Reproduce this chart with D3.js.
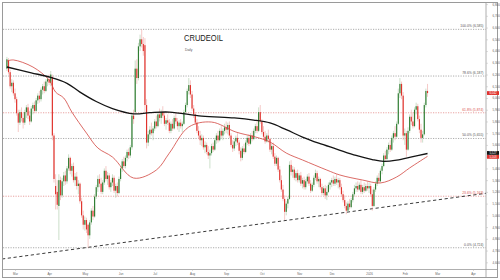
<!DOCTYPE html>
<html>
<head>
<meta charset="utf-8">
<script src="https://cdn.jsdelivr.net/npm/d3@7"></script>
<style>
  html, body { margin: 0; padding: 0; background: #fff; }
  svg { display: block; font-family: "Liberation Sans", Arial, sans-serif; }
</style>
</head>
<body>
<svg id="chart" width="500" height="280"></svg>
<script>
// Daily CRUDEOIL candles, one entry per trading day starting Mon 24 Feb 2025
const opens = [
  6250,6320,6220,6100,6130,
  6040,5990,5870,5790,5880,5830,5790,5880,5920,5850,5800,5910,5940,5890,5980,6020,5990,6070,6100,6060,6140,
  6160,6130,6180,5680,5250,5200,5080,5300,5170,5290,5340,5290,5400,5490,5380,5420,5300,5330,5250,5270,5120,5000,
  4920,4960,4920,4830,4940,5040,4990,5160,5240,5310,5270,5200,5280,5380,5310,5340,5240,5280,5320,5210,5250,5190,
  5310,5400,5460,5420,5490,5540,5510,5580,5850,5880,6250,6170,6440,6500,6460,6450,5940,5620,5690,5730,5700,
  5740,5800,5760,5860,5830,5880,5850,5780,5810,5790,5720,5780,5740,5830,5800,5760,5790,5760,5780,5880,5940,6060,6110,
  6030,5910,5860,5790,5720,5680,5640,5660,5580,5600,5540,5510,5530,5590,5560,5640,5680,5640,5720,5680,5720,
  5750,5730,5770,5680,5600,5570,5630,5660,5620,5550,5490,5570,5540,5620,5660,5610,5680,5650,5720,5760,5720,5880,
  5800,5710,5670,5630,5680,5650,5560,5590,5500,5440,5490,5390,5300,5220,5140,5030,5100,5140,5430,5370,5390,5320,5360,
  5300,5340,5270,5300,5240,5290,5330,5270,5210,5260,5320,5360,5290,5310,5240,5190,5230,5170,5200,5260,
  5280,5300,5270,5310,5280,5300,5240,5180,5130,5080,5040,5100,5070,5130,5180,5230,5250,5220,5260,5200,5240,5210,5250,
  5230,5250,5180,5080,5220,5270,5320,5290,5380,5420,5510,5480,5560,5600,5560,5660,5700,5670,5780,6040,6120,6020,
  5680,5700,5560,5720,5840,5800,5760,5900,5930,5820,5730,5660,5690,5940,6060
];
const highs = [
  6350,6340,6240,6160,6150,
  6080,6010,5900,5900,5920,5870,5900,5940,5950,5890,5930,5960,5970,6000,6040,6060,6090,6120,6140,6160,6190,
  6200,6230,6200,5700,5350,5300,5350,5330,5320,5370,5380,5420,5520,5500,5440,5450,5360,5370,5300,5280,5150,5040,
  4990,4980,4930,4960,5060,5080,5180,5260,5340,5350,5320,5300,5400,5420,5370,5360,5300,5350,5340,5270,5280,5330,
  5420,5480,5500,5510,5560,5570,5600,5880,5900,6320,6330,6470,6540,6585,6520,6510,5990,5720,5760,5790,5760,
  5820,5850,5880,5910,5900,5930,5880,5830,5860,5820,5800,5820,5850,5870,5830,5810,5820,5800,5900,5960,6080,6170,6150,
  6060,5940,5880,5820,5760,5720,5690,5680,5630,5620,5590,5560,5610,5620,5660,5700,5720,5740,5760,5740,5780,
  5800,5790,5800,5700,5640,5650,5680,5700,5640,5580,5590,5610,5640,5680,5690,5700,5720,5740,5780,5810,5920,5940,
  5820,5760,5720,5700,5730,5660,5610,5620,5530,5510,5500,5420,5340,5260,5170,5120,5160,5460,5470,5420,5410,5380,5390,
  5360,5370,5320,5330,5310,5350,5360,5300,5280,5340,5390,5380,5330,5320,5270,5250,5260,5250,5280,5300,
  5320,5340,5330,5350,5320,5320,5270,5210,5170,5110,5120,5140,5150,5200,5260,5280,5290,5280,5300,5260,5280,5270,5290,
  5280,5270,5220,5240,5290,5340,5360,5400,5440,5530,5550,5580,5620,5640,5680,5720,5760,5800,6080,6170,6140,6050,
  5740,5720,5750,5860,5900,5880,5920,5960,5950,5850,5780,5720,5960,6080,6120
];
const lows = [
  6230,6200,6080,6050,6020,
  5960,5850,5710,5770,5800,5740,5770,5830,5820,5770,5790,5860,5870,5880,5950,5960,5970,6030,6040,6050,6100,
  6110,6100,5640,5280,5050,5050,4790,5130,5150,5250,5260,5270,5380,5350,5330,5280,5250,5220,5180,5100,4980,4880,
  4870,4850,4724,4800,4920,4960,4980,5140,5200,5240,5180,5180,5260,5290,5260,5220,5200,5250,5190,5150,5160,5180,
  5290,5370,5400,5400,5460,5480,5490,5560,5780,5860,6120,6150,6400,6430,6360,5880,5570,5590,5650,5680,5640,
  5720,5740,5750,5800,5780,5830,5760,5730,5770,5700,5700,5720,5730,5780,5730,5710,5740,5710,5770,5860,5920,6030,6000,
  5890,5830,5770,5700,5650,5600,5590,5560,5530,5520,5480,5400,5510,5540,5550,5610,5620,5630,5660,5640,5690,
  5700,5690,5660,5580,5540,5550,5590,5600,5520,5460,5470,5520,5530,5600,5590,5600,5630,5640,5700,5700,5710,5780,
  5690,5650,5610,5620,5620,5540,5520,5480,5420,5420,5370,5280,5200,5120,4960,5000,5060,5130,5340,5320,5300,5290,5280,
  5280,5250,5230,5220,5220,5270,5250,5190,5200,5240,5300,5270,5240,5220,5170,5170,5140,5130,5190,5220,
  5240,5250,5250,5260,5230,5220,5160,5110,5060,5010,5030,5050,5060,5110,5160,5200,5200,5210,5180,5180,5190,5200,5210,
  5190,5160,5040,5070,5200,5250,5270,5280,5350,5410,5460,5470,5520,5540,5550,5620,5640,5660,5770,6000,5990,5640,
  5600,5500,5550,5700,5770,5740,5750,5860,5800,5700,5620,5620,5680,5920,6010
];
const closes = [
  6330,6220,6100,6130,6040,
  5990,5870,5790,5880,5830,5790,5880,5920,5850,5800,5910,5940,5890,5980,6020,5990,6070,6100,6060,6140,6160,
  6130,6200,5680,5310,5180,5090,5300,5170,5290,5340,5290,5400,5490,5380,5420,5300,5330,5250,5270,5120,5000,4920,
  4960,4880,4830,4940,5040,4990,5160,5240,5310,5270,5200,5280,5380,5310,5340,5240,5280,5320,5210,5250,5190,5310,
  5400,5460,5420,5490,5540,5510,5580,5850,5820,6250,6170,6440,6500,6460,6400,5940,5620,5690,5730,5700,5740,
  5800,5760,5860,5830,5880,5850,5780,5810,5790,5720,5780,5740,5830,5800,5760,5790,5760,5780,5880,5940,6060,6110,6030,
  5910,5860,5790,5720,5680,5640,5660,5580,5600,5540,5510,5530,5590,5560,5640,5680,5640,5720,5680,5720,5750,
  5730,5770,5680,5600,5570,5630,5660,5620,5550,5490,5570,5540,5620,5660,5610,5680,5650,5720,5760,5720,5880,5800,
  5710,5670,5630,5680,5650,5560,5590,5500,5440,5490,5390,5300,5220,5140,5030,5100,5140,5430,5370,5390,5320,5360,5300,
  5340,5270,5300,5240,5290,5330,5270,5210,5260,5320,5360,5290,5310,5240,5190,5230,5170,5200,5260,5280,
  5300,5270,5310,5280,5300,5240,5180,5130,5080,5040,5100,5070,5130,5180,5230,5250,5220,5260,5200,5240,5210,5250,5230,
  5250,5180,5080,5220,5270,5320,5290,5380,5420,5510,5480,5560,5600,5560,5660,5700,5670,5780,6040,6120,6020,5680,
  5700,5560,5720,5840,5800,5760,5900,5930,5820,5730,5660,5690,5940,6060,6042
];

// Moving averages, sampled at the listed bar numbers
const slowMaBars   = [0, 15, 27, 37, 45, 55, 65, 78, 88, 100, 120, 140, 152, 162, 172, 182, 192, 203, 215, 225, 232, 240, 250, 259];
const slowMaValues = [6264, 6215, 6175, 6125, 6050, 5970, 5910, 5865, 5875, 5880, 5846, 5830, 5812, 5787, 5730, 5667, 5615, 5565, 5510, 5475, 5460, 5470, 5500, 5527];
const fastMaBars   = [0, 4, 16, 26, 30, 35, 40, 49, 56, 65, 78, 92, 100, 112, 126, 141, 153, 162, 172, 182, 197, 205, 219, 230, 240, 248, 259];
const fastMaValues = [6315, 6324, 6264, 6153, 6050, 6000, 5880, 5701, 5574, 5497, 5318, 5386, 5530, 5753, 5795, 5710, 5668, 5625, 5531, 5472, 5386, 5344, 5301, 5276, 5327, 5404, 5503];

// Rising support line (two anchor points)
const trendBars   = [-3, 296];
const trendValues = [4628, 5190];

// Fibonacci retracement levels
const fibNames  = ["0.0%", "23.6%", "50.0%", "61.8%", "78.6%", "100.0%"];
const fibValues = [4724, 5163, 5655, 5874, 6187, 6585];
const fibAccent = [false, true, false, true, false, false];

// Axis ticks
const priceTicks  = [4600, 4700, 4800, 4900, 5000, 5100, 5200, 5300, 5400, 5500, 5600, 5700, 5800, 5900, 6000, 6100, 6200, 6300, 6400, 6500, 6600, 6700, 6800];
const monthLabels = ["Mar", "Apr", "May", "Jun", "Jul", "Aug", "Sep", "Oct", "Nov", "Dec", "2026", "Feb", "Mar", "Apr"];
const monthBars   = [5, 26, 48, 70, 91, 114, 135, 157, 180, 200, 223, 245, 265, 287];

const svg = d3.select("#chart");
const W = 500, H = 280;
const plot = { left: 3, top: 3, right: 486, bottom: 269.5 };

const x = d3.scaleLinear().domain([0, 287]).range([6.9, 473]);
const y = d3.scaleLinear().domain([4600, 6800]).range([262.3, 4.1]);

const fmt = d3.format(",");
const UP = "#2f7d32", DOWN = "#e0332d";
const UP_WICK = "#a9c9a6", DOWN_WICK = "#eea6a2";

svg.append("rect").attr("width", W).attr("height", H).attr("fill", "#fff");

svg.append("defs").append("clipPath").attr("id", "plotClip")
  .append("rect")
  .attr("x", plot.left).attr("y", plot.top)
  .attr("width", plot.right - plot.left).attr("height", plot.bottom - plot.top);

const g = svg.append("g").attr("clip-path", "url(#plotClip)");

// Fibonacci levels
fibValues.forEach((v, i) => {
  const col = fibAccent[i] ? "#e07a78" : "#8a8a8a";
  g.append("line")
    .attr("x1", plot.left).attr("x2", plot.right)
    .attr("y1", y(v)).attr("y2", y(v))
    .attr("stroke", col).attr("stroke-width", 0.7)
    .attr("stroke-dasharray", "1.2,1.3");
  svg.append("text")
    .attr("x", 483.5).attr("y", y(v) - 2.2)
    .attr("text-anchor", "end")
    .attr("font-size", 3.4)
    .attr("fill", fibAccent[i] ? "#d9534f" : "#555")
    .text(`${fibNames[i]} (${fmt(v)})`);
});

// Support trend line
g.append("line")
  .attr("x1", x(trendBars[0])).attr("y1", y(trendValues[0]))
  .attr("x2", x(trendBars[1])).attr("y2", y(trendValues[1]))
  .attr("stroke", "#3a3a3a").attr("stroke-width", 1)
  .attr("stroke-dasharray", "3.2,2.6");

// Candles
const bars = d3.range(closes.length);
const bodyW = 1.15;
const candle = g.append("g").selectAll("g").data(bars).join("g");
candle.append("line")
  .attr("x1", i => x(i)).attr("x2", i => x(i))
  .attr("y1", i => y(Math.max(highs[i], opens[i], closes[i])))
  .attr("y2", i => y(Math.min(lows[i], opens[i], closes[i])))
  .attr("stroke", i => closes[i] >= opens[i] ? UP_WICK : DOWN_WICK)
  .attr("stroke-width", 0.6);
candle.append("rect")
  .attr("x", i => x(i) - bodyW / 2)
  .attr("width", bodyW)
  .attr("y", i => y(Math.max(opens[i], closes[i])))
  .attr("height", i => Math.max(0.6, Math.abs(y(opens[i]) - y(closes[i]))))
  .attr("fill", i => closes[i] >= opens[i] ? UP : DOWN);

// Moving averages
const maLine = d3.line().curve(d3.curveCatmullRom.alpha(0.5));
g.append("path")
  .attr("d", maLine(fastMaBars.map((b, i) => [x(b), y(fastMaValues[i])])))
  .attr("fill", "none").attr("stroke", "#d2453f").attr("stroke-width", 0.8);
g.append("path")
  .attr("d", maLine(slowMaBars.map((b, i) => [x(b), y(slowMaValues[i])])))
  .attr("fill", "none").attr("stroke", "#141414").attr("stroke-width", 1.3);

// Title
svg.append("text")
  .attr("x", 184).attr("y", 41.2)
  .attr("font-size", 9.4)
  .attr("textLength", 39).attr("lengthAdjust", "spacingAndGlyphs")
  .attr("fill", "#1a1a1a")
  .text("CRUDEOIL");
svg.append("text")
  .attr("x", 185).attr("y", 51)
  .attr("font-size", 3.4)
  .attr("fill", "#555")
  .text("Daily");

// Frame
svg.append("rect")
  .attr("x", 2.5).attr("y", 2.5).attr("width", 495).attr("height", 275)
  .attr("fill", "none").attr("stroke", "#9a9a9a").attr("stroke-width", 1);
svg.append("line")
  .attr("x1", 2.5).attr("x2", 497.5).attr("y1", plot.bottom).attr("y2", plot.bottom)
  .attr("stroke", "#9a9a9a").attr("stroke-width", 0.8);

// Value tags on the price axis; tags that would collide are pushed apart
const lastIdx = closes.length - 1;
const tagH = 3.8;
const tags = [
  { v: closes[lastIdx], bg: "#e0332d" },
  { v: slowMaValues[slowMaValues.length - 1], bg: "#141414" },
  { v: fastMaValues[fastMaValues.length - 1], bg: "#e0332d" }
].map(t => ({ ...t, cy: y(t.v) }))
 .sort((a, b) => a.cy - b.cy);
for (let i = 1; i < tags.length; i++) {
  const gap = tags[i].cy - tags[i - 1].cy;
  if (gap < tagH + 0.1) {
    const shift = (tagH + 0.1 - gap) / 2;
    tags[i - 1].cy -= shift;
    tags[i].cy += shift;
  }
}

// Right price axis; a tick label sitting under a value tag is left out
const hiddenUnderTag = v => tags.some(t => Math.abs(y(v) - t.cy) < 3.4);
const yAxis = svg.append("g")
  .attr("transform", `translate(${plot.right},0)`)
  .call(d3.axisRight(y).tickValues(priceTicks).tickSize(2).tickPadding(4.5)
    .tickFormat(v => hiddenUnderTag(v) ? "" : fmt(v)));
yAxis.select(".domain").attr("stroke", "#9a9a9a").attr("stroke-width", 0.8)
  .attr("d", `M0,${plot.top}V${H - 2.5}`);
yAxis.selectAll(".tick line").attr("stroke", "#bbb").attr("stroke-width", 0.5);
yAxis.selectAll(".tick text").attr("font-size", 2.9).attr("fill", "#666")
  .attr("font-family", "'Liberation Sans', Arial, sans-serif");

// Bottom time axis
const xAxis = svg.append("g")
  .attr("transform", `translate(0,${plot.bottom})`)
  .call(d3.axisBottom(x).tickValues(monthBars).tickSize(1.5).tickPadding(2)
    .tickFormat((d, i) => monthLabels[i]));
xAxis.select(".domain").remove();
xAxis.selectAll(".tick line").attr("stroke", "#bbb").attr("stroke-width", 0.5);
xAxis.selectAll(".tick text").attr("font-size", 2.9).attr("fill", "#666")
  .attr("font-family", "'Liberation Sans', Arial, sans-serif");

tags.forEach(t => {
  svg.append("rect")
    .attr("x", plot.right + 1).attr("y", t.cy - tagH / 2)
    .attr("width", 12).attr("height", tagH)
    .attr("fill", t.bg);
  svg.append("text")
    .attr("x", plot.right + 7).attr("y", t.cy + 1.05)
    .attr("text-anchor", "middle")
    .attr("font-size", 2.9).attr("fill", "#fff")
    .text(fmt(t.v));
});
</script>
</body>
</html>
